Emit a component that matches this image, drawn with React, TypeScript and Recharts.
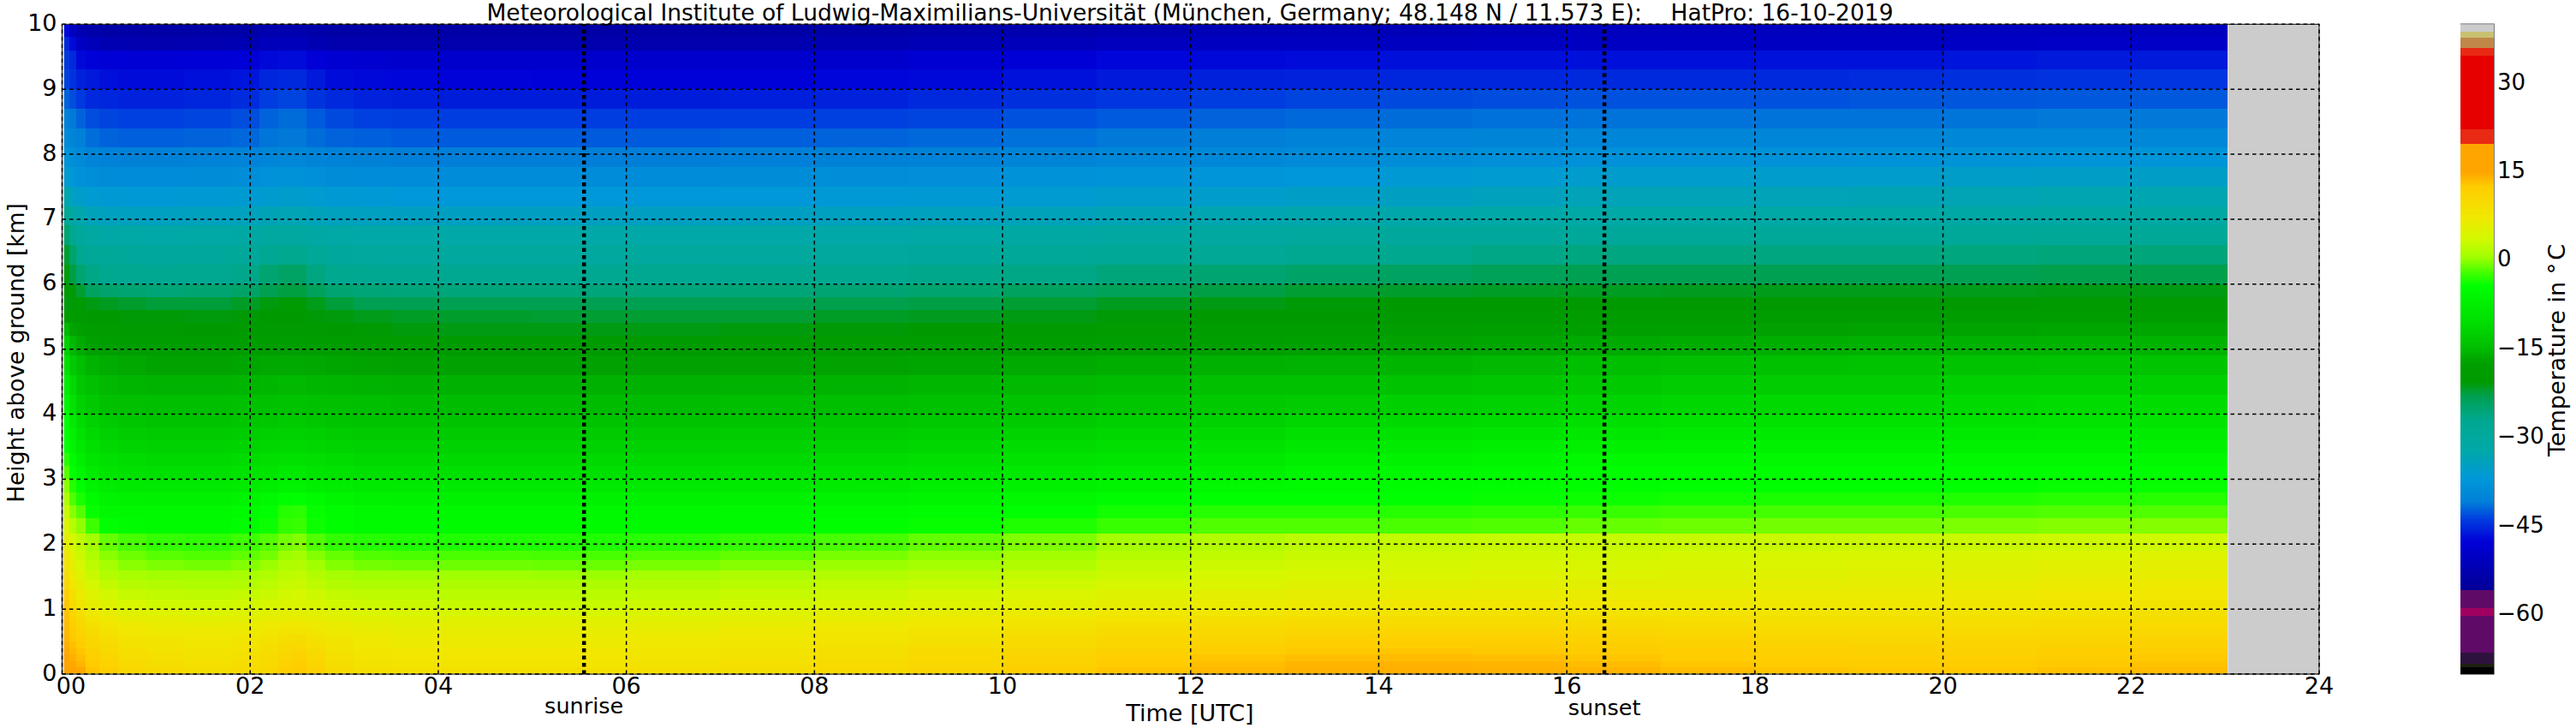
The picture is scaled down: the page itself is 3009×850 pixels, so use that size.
import React from 'react';
import { ScatterChart, Scatter, XAxis, YAxis, ReferenceLine, ReferenceArea } from 'recharts';

const TITLE = 'Meteorological Institute of Ludwig-Maximilians-Universität (München, Germany; 48.148 N / 11.573 E):    HatPro: 16-10-2019';
const xTicks = [0, 2, 4, 6, 8, 10, 12, 14, 16, 18, 20, 22, 24];
const yTicks = [0, 1, 2, 3, 4, 5, 6, 7, 8, 9, 10];
const barTicks = [-60, -45, -30, -15, 0, 15, 30];
const SUNRISE = 5.55;
const SUNSET = 16.4;
const DATA_END = 23.03;

const hourEdges = [0.02, 0.08, 0.15, 0.25, 0.4, 0.6, 0.9, 1.3, 1.8, 2.1, 2.3, 2.45, 2.6, 2.8, 3.1, 3.5, 4, 5, 6, 7, 8, 9, 10, 11, 12, 13, 14, 15, 16, 17, 18, 19, 20, 21, 22, 23.03];
const heightEdges = [0, 0.1, 0.2, 0.3, 0.4, 0.5, 0.6, 0.7, 0.8, 0.9, 1, 1.15, 1.3, 1.45, 1.6, 1.75, 1.9, 2.16, 2.4, 2.6, 2.8, 3, 3.2, 3.4, 3.6, 3.8, 4, 4.3, 4.6, 4.9, 5.2, 5.4, 5.6, 5.8, 6, 6.3, 6.6, 6.9, 7.2, 7.5, 7.8, 8.1, 8.4, 8.7, 9, 9.3, 9.6, 9.8, 10];

// temperature (deg C): one row per height band (bottom to top), one value per time column
const temperatureRows = [
  [16,15,14.8,13,12,10.5,9.8,9.4,9.8,10.6,12,12.6,11.5,9.8,9,8.8,8.8,8.8,9,9.5,10.2,11,12,13,13.8,14.2,14.3,14.2,14,13.6,13,12.8,12.8,13.2,13.6],
  [15.5,14.8,14,12.6,11.4,10,9.4,9,9.4,10.2,11.5,12.2,11,9.4,8.6,8.4,8.4,8.4,8.6,9,9.8,10.6,11.6,12.6,13.4,14,14.2,14,13.6,13,12.6,12.4,12.4,12.8,13.2],
  [15,14.4,13.4,12.2,11,9.6,9,8.6,9,9.8,11,11.8,10.4,9,8.2,8,8,8,8.2,8.6,9.4,10.2,11.2,12.2,13,13.4,13.6,13.4,13,12.6,12.2,12,12,12.4,12.8],
  [14.8,13.8,13,11.6,10.4,9.2,8.6,8.2,8.6,9.4,10.4,11,9.8,8.6,7.8,7.6,7.6,7.6,7.8,8.2,9,9.8,10.8,11.6,12.4,12.8,13,12.8,12.6,12.2,11.8,11.6,11.6,12,12.3],
  [14.4,13.4,12.4,11,9.8,8.6,8.2,7.8,8.2,9,9.8,10.2,9.2,8.2,7.4,7.2,7.2,7.2,7.4,7.8,8.6,9.2,10.2,11,11.8,12.2,12.4,12.4,12,11.8,11.4,11.2,11.2,11.6,11.8],
  [14,12.8,11.8,10.4,9.2,8.2,7.8,7.4,7.8,8.4,9,9.4,8.6,7.8,7,6.8,6.8,6.8,7,7.4,8,8.6,9.6,10.4,11,11.6,11.8,11.8,11.4,11.2,10.8,10.6,10.8,11,11.2],
  [13.8,12.4,11,9.8,8.6,7.6,7.2,7,7.2,7.8,8.2,8.4,7.8,7.2,6.6,6.4,6.4,6.4,6.6,7,7.6,8.2,9,9.8,10.4,10.8,11,11,10.8,10.4,10.2,10,10.2,10.4,10.6],
  [13.6,12,10.4,9,8,7,6.6,6.4,6.6,7.2,7.4,7.6,7.2,6.6,6,5.8,5.8,5.8,6,6.4,7,7.6,8.4,9,9.6,10,10.2,10.2,10,9.8,9.4,9.4,9.6,9.8,10],
  [13.4,11.4,9.6,8.2,7.2,6.2,6,5.6,5.8,6.2,6.4,6.6,6.2,5.8,5.4,5.2,5.2,5.2,5.4,5.8,6.4,7,7.6,8.2,8.8,9.2,9.4,9.4,9.2,9,8.8,8.8,9,9.2,9.4],
  [13.2,10.8,8.8,7.2,6.2,5.4,5,4.8,5,5.4,5.6,5.8,5.4,5,4.6,4.4,4.2,4.2,4.6,5,5.6,6.2,6.8,7.4,7.8,8.2,8.4,8.6,8.4,8.2,8.2,8.2,8.4,8.6,8.8],
  [13,10,8,6.2,5.2,4.2,3.6,3.6,3.8,4.2,4.6,4.8,4.4,3.8,3.4,3.2,3,3,3.4,3.8,4.4,5,5.6,6.2,6.8,7.2,7.4,7.6,7.6,7.4,7.4,7.4,7.8,8,8.2],
  [12,9,6.8,5,3.8,3,2.6,2.5,2.8,3.2,3.8,4,3.4,2.8,2.5,2.4,2.2,2.2,2.6,3,3.4,4,4.6,5.2,5.8,6.2,6.4,6.6,6.6,6.6,6.8,6.8,7.2,7.4,7.6],
  [10.5,8,5.8,4,2.8,2,1.8,1.6,1.8,2.4,3,3.2,2.5,1.8,1.5,1.5,1.4,1.4,1.8,2.2,2.6,3,3.6,4.2,4.8,5.2,5.4,5.6,5.8,5.8,6,6.2,6.4,6.8,7],
  [9.5,7,5,3.2,1.8,1.2,0.8,0.8,1.1,1.6,2.4,2.6,1.8,1,0.6,0.6,0.6,0.5,1,1.4,1.8,2.2,2.8,3.4,4,4.6,4.8,5,5,5.2,5.4,5.6,5.8,6.2,6.4],
  [8.5,6,4,2.4,1,0,-0.4,-0.6,-0.2,0.5,1.6,1.8,0.7,-0.2,-0.6,-0.8,-0.8,-0.9,-0.5,-0.1,0.5,1,1.7,2.8,3.4,3.8,4.2,4.4,4.4,4.6,4.8,5,5.2,5.6,5.8],
  [7.5,5.2,3.4,1.6,0,-0.8,-1.4,-1.6,-1.2,-0.6,0.5,0.9,-0.2,-1,-1.6,-1.8,-1.8,-1.9,-1.5,-1.1,-0.5,0.1,0.8,2,2.6,3.2,3.6,3.8,3.8,4,4.2,4.4,4.6,4.8,5],
  [6,4,2.5,0.8,-1,-1.9,-2.5,-2.7,-2.2,-1.5,-0.6,-0.2,-1.6,-2.6,-3,-3.2,-3.2,-3.2,-2.9,-2.5,-1.9,-1.1,-0.3,1,1.8,2.4,2.8,3,3,3.1,3.2,3.2,3.2,3.4,3.6],
  [4.5,2,0.2,-2.2,-4.2,-4.8,-5,-5,-4.6,-3.8,-2.6,-2.4,-3.8,-4.6,-5,-5.2,-5.2,-5.2,-5,-5,-4.6,-4,-3.2,-2.4,-1.6,-1.6,-1.8,-1.6,-1,-0.8,-0.6,-0.6,-0.4,-0.2,-0.2],
  [3,0,-1.5,-4,-5.4,-5.5,-5.6,-5.6,-5,-4.2,-3,-2.8,-4,-4.8,-5.4,-5.6,-5.6,-5.6,-5.6,-5.4,-5.2,-4.8,-4.2,-3.6,-3,-3,-3,-2.8,-2.4,-2.2,-2,-2,-1.8,-1.6,-1.6],
  [1.5,-1.6,-3.4,-5,-6.4,-6.6,-6.8,-6.8,-6.2,-5.6,-4.4,-4.2,-5.2,-6,-6.6,-6.8,-6.8,-6.8,-6.8,-6.6,-6.4,-6,-5.4,-4.8,-4.2,-4.2,-4.2,-4,-3.8,-3.6,-3.4,-3.4,-3.2,-3,-3],
  [0,-3,-4.6,-6.4,-7.8,-8.2,-8.4,-8.4,-8,-7.4,-6.4,-6.4,-7.2,-7.8,-8.2,-8.4,-8.4,-8.4,-8.4,-8.2,-8,-7.4,-6.8,-6.2,-5.6,-5,-4.8,-4.6,-4.4,-4.2,-4.2,-4.2,-4.2,-4,-4],
  [-1.5,-4.2,-6,-8,-9.2,-9.8,-10,-10,-9.6,-9.2,-8.4,-8.4,-9,-9.6,-10,-10,-10,-10,-10,-9.8,-9.4,-9,-8.4,-7.8,-7,-6,-5.4,-5,-4.6,-4.4,-4.4,-4.4,-4.4,-4.4,-4.4],
  [-3,-5.2,-7.2,-9,-10,-10.6,-11,-11,-10.6,-10.2,-9.8,-9.8,-10.2,-10.6,-11,-11,-11,-11,-11,-10.8,-10.6,-10.2,-9.6,-9,-8.2,-7.2,-6.6,-6,-5.6,-5.4,-5.4,-5.4,-5.4,-5.4,-5.4],
  [-4.2,-6.2,-8.4,-10,-11,-11.6,-12,-12,-11.6,-11.2,-11,-11,-11.2,-11.6,-12,-12,-12,-12,-12,-11.8,-11.6,-11.2,-10.6,-10,-9.4,-8.6,-8,-7.4,-7,-6.8,-6.8,-6.8,-6.8,-6.8,-6.8],
  [-4.2,-7,-9.6,-11,-12,-12.6,-13,-13,-12.6,-12.4,-12,-12,-12.4,-12.8,-13,-13,-13,-13,-13,-12.8,-12.6,-12.2,-11.8,-11.2,-10.8,-10,-9.6,-9,-8.6,-8.2,-8.2,-8.2,-8.2,-8,-8],
  [-4.4,-8,-10.6,-12,-13,-13.6,-14,-14,-13.6,-13.4,-13,-13,-13.4,-13.8,-14,-14,-14,-14,-14,-13.8,-13.6,-13.2,-13,-12.4,-12,-11.4,-11,-10.6,-10,-9.6,-9.6,-9.6,-9.4,-9.2,-9.2],
  [-6,-9.4,-12,-13.2,-14.2,-14.4,-14.6,-14.6,-14.4,-14.2,-14,-14,-14.2,-14.4,-14.6,-14.8,-14.8,-14.8,-14.8,-14.6,-14.6,-14.2,-14,-13.6,-13.2,-12.8,-12.4,-12,-11.6,-11.2,-11,-11,-10.8,-10.6,-10.6],
  [-8,-11,-13.4,-14.4,-15,-15.4,-15.6,-15.6,-15.4,-15.2,-15,-15,-15.2,-15.4,-15.6,-15.8,-15.8,-15.8,-15.8,-15.6,-15.6,-15.2,-15,-14.8,-14.4,-14.2,-14,-13.6,-13.2,-12.8,-12.6,-12.6,-12.4,-12.2,-12.2],
  [-10,-13,-14.6,-15.6,-16.2,-16.6,-17,-17,-16.8,-16.6,-16.4,-16.4,-16.6,-16.8,-17,-17.2,-17.2,-17.2,-17.2,-17,-17,-16.8,-16.4,-16,-15.8,-15.6,-15.4,-15,-14.6,-14.4,-14.2,-14,-14,-13.8,-13.8],
  [-12,-15,-16.4,-17.4,-18,-18.6,-19,-19,-18.8,-18.6,-18.4,-18.4,-18.8,-19,-19.4,-19.6,-19.8,-19.8,-19.8,-19.6,-19.4,-19,-18.6,-18.2,-17.8,-17.4,-17,-16.8,-16.4,-16.2,-16,-15.8,-15.8,-15.6,-15.6],
  [-15,-17,-18,-18.8,-19.4,-19.8,-20,-20.2,-20,-19.8,-19.8,-19.8,-20,-20.2,-20.5,-20.8,-21,-21,-21,-20.8,-20.6,-20.2,-19.8,-19.4,-19,-18.8,-18.4,-18,-17.6,-17.4,-17.2,-17,-17,-16.8,-16.8],
  [-19,-19.6,-20,-20.2,-20.4,-20.6,-20.6,-20.8,-20.6,-20.4,-20.3,-20.3,-20.6,-20.8,-21.2,-21.6,-21.8,-22,-22,-22,-21.6,-21.4,-21,-20.6,-20.4,-20.2,-20,-19.8,-19.4,-19.2,-19,-18.8,-18.8,-18.6,-18.6],
  [-20.8,-20.6,-20.5,-21,-21.4,-21.8,-22.2,-22.2,-21.6,-20.8,-20.5,-20.5,-21.2,-22.2,-23,-23,-23,-23,-23,-23,-22.8,-22.6,-22,-21.4,-21,-20.6,-20.4,-20.4,-20.4,-20.4,-20.2,-20.2,-20.2,-20,-20],
  [-20.5,-20.6,-22,-24,-24.6,-25,-25.4,-25,-24.4,-23,-22.4,-22.4,-23.6,-25,-25.4,-25.6,-25.6,-25.6,-25.6,-25.4,-25.2,-24.8,-24,-23.4,-22.6,-22,-21.8,-21.6,-21.5,-21.4,-21.2,-21.2,-21.2,-21,-21],
  [-20.8,-22.5,-25,-26.4,-27,-27.2,-27.4,-27.2,-26.6,-25,-24.2,-24.2,-26,-27,-27.4,-27.4,-27.4,-27.4,-27.2,-27,-27,-26.6,-26.4,-25.6,-25,-24.4,-24,-23.4,-23,-23,-23,-23,-23,-22.8,-22.8],
  [-22,-24.5,-27,-28.6,-29,-29.4,-29.6,-29.4,-29,-27.6,-27,-27,-28.6,-29.4,-29.8,-30,-30,-30,-30,-30,-29.8,-29.4,-29,-28.4,-28,-27.4,-27,-26.4,-26,-26,-26,-26,-25.8,-25.6,-25.6],
  [-25,-27,-29.5,-30.8,-31.4,-31.6,-31.8,-31.6,-31.2,-30.4,-30.2,-30.2,-31,-31.6,-32,-32,-32,-32,-32,-32,-31.8,-31.6,-31.2,-30.6,-30.4,-30,-29.6,-29.2,-29,-29,-29,-29,-28.8,-28.6,-28.6],
  [-28,-31,-32.5,-33.8,-34.2,-34.4,-34.4,-34.2,-34,-33.4,-33.2,-33.2,-33.8,-34.2,-34.4,-34.6,-34.6,-34.6,-34.6,-34.6,-34.4,-34.2,-33.8,-33.4,-33,-32.6,-32.2,-31.8,-31.5,-31.5,-31.5,-31.5,-31.4,-31.2,-31.2],
  [-32.5,-34.5,-35.4,-36,-36.4,-36.6,-36.6,-36.4,-36.2,-35.8,-35.6,-35.6,-36,-36.4,-36.6,-36.8,-36.8,-36.8,-36.8,-36.8,-36.6,-36.4,-36,-35.6,-35.4,-35,-34.6,-34,-33.5,-33.5,-33.5,-33.4,-33.2,-33,-33],
  [-36,-37,-38,-38.4,-38.6,-38.8,-38.8,-38.6,-38.4,-38,-37.8,-37.8,-38.2,-38.6,-38.8,-38.8,-38.8,-38.8,-38.8,-38.6,-38.4,-38.2,-37.8,-37.6,-37.4,-37,-36.4,-36,-35.5,-35.5,-35.5,-35.4,-35.2,-35,-35],
  [-37.5,-38.5,-39,-40,-40.4,-40.6,-40.6,-40.4,-40.2,-39.8,-39.6,-39.6,-40,-40.4,-40.6,-40.8,-40.8,-40.8,-40.8,-40.7,-40.6,-40.4,-40,-39.6,-39.4,-39,-38.6,-38.2,-38,-38,-38,-37.8,-37.6,-37.5,-37.5],
  [-39,-40,-40.7,-41.5,-42,-42.2,-42.2,-42,-41.8,-41.2,-41,-41,-41.6,-42,-42.2,-42.4,-42.4,-42.4,-42.4,-42.2,-42,-41.8,-41.4,-41,-40.8,-40.4,-40.2,-40,-39.8,-39.8,-39.8,-39.8,-39.6,-39.5,-39.5],
  [-40.5,-41,-42,-43,-43.4,-43.6,-43.6,-43.4,-43,-42,-41.6,-41.6,-42.4,-43.2,-43.6,-43.8,-43.8,-43.8,-43.8,-43.8,-43.6,-43.4,-42.8,-42.4,-42,-41.8,-41.6,-41.4,-41.3,-41.3,-41.3,-41.3,-41.2,-41,-41],
  [-42,-43,-44,-45,-45.2,-45.4,-45.4,-45.2,-44.8,-43.8,-43.4,-43.4,-44.4,-45,-45.4,-45.6,-45.8,-45.8,-45.8,-45.6,-45.4,-45,-44.6,-44.2,-43.8,-43.4,-43.2,-43,-42.8,-42.8,-42.8,-42.6,-42.6,-42.5,-42.5],
  [-43.5,-44.5,-45.5,-46,-46.5,-46.8,-46.8,-46.6,-46.2,-45.2,-45,-45,-46,-46.8,-47,-47.2,-47.4,-47.5,-47.5,-47.5,-47.2,-47,-46.4,-46,-45.5,-45.4,-45.2,-45.2,-45,-45,-45,-44.8,-44.6,-44.4,-44.3],
  [-44,-45,-47,-47.5,-47.8,-48,-48,-47.8,-47.6,-47,-46.8,-46.8,-47.6,-48.2,-48.6,-48.8,-49,-49,-49,-49,-48.8,-48.2,-47.8,-47.2,-47,-46.8,-46.6,-46.6,-46.5,-46.5,-46.4,-46.4,-46.2,-46,-46],
  [-45,-47,-50,-51,-52,-52.2,-52.4,-52.2,-52,-51,-51,-51,-52,-52.4,-52.6,-52.6,-52.6,-52.6,-52.6,-52.4,-52,-51.6,-51,-50.6,-50.4,-50.4,-50.4,-50.2,-50.2,-50,-50,-50,-49.8,-49.6,-49.6],
  [-47,-50,-52,-53,-53.5,-53.6,-53.6,-53.4,-53.2,-52.6,-52.4,-52.4,-53,-53.4,-53.6,-53.6,-53.6,-53.6,-53.6,-53.4,-53.2,-52.8,-52.4,-52,-51.6,-51.4,-51.2,-51,-50.7,-50.6,-50.6,-50.6,-50.5,-50.5,-50.5],
];

// colour scale
const smoothTemps = [-55.7, -53.3, -47.5, -43.6, -40.7, -36.8, -32, -27, -22.9, -20.4, -17.3, -14.4, -10, -4.2, -1.6, 0.6, 3.9, 7.4, 12.6, 15, 19.8];
const smoothColors = ['#000098', '#0000a8', '#0000d8', '#0040e0', '#0080d8', '#0098d8', '#00a8a8', '#00a890', '#00a050', '#009a00', '#00a000', '#00c000', '#00e000', '#00ff00', '#50ff00', '#a0ff00', '#d4f800', '#f0e800', '#ffcc00', '#ffa500', '#ffa500'];
const bandTops = [-68.7, -68.3, -66.2, -60.1, -58.8, -55.7];
const bandColors = ['#000000', '#1c2010', '#2e123e', '#600a68', '#a00060', '#600a68'];
const hotTops = [22.3, 34.8, 36.1, 37.8, 38.7, 40.1];
const hotColors = ['#e82a14', '#e60000', '#e82a14', '#c08848', '#c8c070', '#cccccc'];

const hexToRgb = (h: string) => [1, 3, 5].map((i) => parseInt(h.slice(i, i + 2), 16));
function colorOf(t: number): string {
  if (t < -55.7) {
    const i = bandTops.findIndex((v) => t < v);
    return bandColors[i < 0 ? 0 : i];
  }
  if (t >= 19.8) {
    const i = hotTops.findIndex((v) => t < v);
    return hotColors[i < 0 ? hotColors.length - 1 : i];
  }
  let i = 0;
  while (i < smoothTemps.length - 2 && t > smoothTemps[i + 1]) i++;
  const f = (t - smoothTemps[i]) / (smoothTemps[i + 1] - smoothTemps[i]);
  const a = hexToRgb(smoothColors[i]);
  const b = hexToRgb(smoothColors[i + 1]);
  return `rgb(${a.map((v, k) => Math.round(v + (b[k] - v) * f)).join(',')})`;
}

// layout
const PLOT_LEFT = 72.5;
const PLOT_TOP = 28.3;
const PLOT_W = 2636.5;
const PLOT_H = 758.7;
const PLOT_BOTTOM_GAP = 850 - PLOT_TOP - PLOT_H;
const BAR_LEFT = 2874;
const BAR_W = 39;
const PX_PER_HOUR = PLOT_W / 24;
const PX_PER_KM = PLOT_H / 10;
const PX_PER_DEG = PLOT_H / 110;

const cells = temperatureRows.flatMap((row, r) =>
  row.map((temp, c) => ({
    t: (hourEdges[c] + hourEdges[c + 1]) / 2,
    h: (heightEdges[r] + heightEdges[r + 1]) / 2,
    dt: hourEdges[c + 1] - hourEdges[c],
    dh: heightEdges[r + 1] - heightEdges[r],
    temp,
  })),
);
const frameCorners = [{ t: 0, h: 0 }, { t: 24, h: 10 }];

const barStep = 0.25;
const barCells = Array.from({ length: 440 }, (_, i) => ({ x: 0.5, v: -70 + (i + 0.5) * barStep }));

const CellShape = (p: any) => {
  const w = p.payload.dt * PX_PER_HOUR;
  const h = p.payload.dh * PX_PER_KM;
  return <rect x={p.cx - w / 2} y={p.cy - h / 2} width={w} height={h} fill={colorOf(p.payload.temp)} shapeRendering="crispEdges" />;
};
const BarShape = (p: any) => {
  const h = barStep * PX_PER_DEG;
  return <rect x={p.cx - BAR_W / 2} y={p.cy - h / 2} width={BAR_W} height={h + 0.5} fill={colorOf(p.payload.v)} shapeRendering="crispEdges" />;
};
const NoShape = () => <g />;
const XTick = (p: any) => (
  <text x={p.x + (p.payload.value === 0 ? 10.5 : 0)} y={p.y + 21} textAnchor="middle" fontSize={27} fill="#000" fontFamily="DejaVu Sans">
    {String(p.payload.value).padStart(2, '0')}
  </text>
);

const FONT = '"DejaVu Sans"';
const gridProps = { stroke: '#000', strokeWidth: 1.5, strokeDasharray: '4.5 4', ifOverflow: 'visible' as const };
const sunProps = { stroke: '#000', strokeWidth: 4.5, strokeDasharray: '4.5 4', ifOverflow: 'visible' as const };
const hourToPx = (h: number) => PLOT_LEFT + h * PX_PER_HOUR;

export default function App() {
  return (
    <div style={{ position: 'absolute', left: 0, top: 0, width: 3009, height: 850, background: '#fff', fontFamily: FONT }}>
      <div style={{ position: 'absolute', left: 0, top: 0 }}>
        <ScatterChart width={3009} height={850} margin={{ top: PLOT_TOP, left: 0, right: 3009 - PLOT_LEFT - PLOT_W, bottom: 0 }}>
          <XAxis type="number" dataKey="t" domain={[0, 24]} ticks={xTicks} interval={0} height={PLOT_BOTTOM_GAP} tickLine={false} tickSize={0} tick={XTick} stroke="#444" allowDataOverflow />
          <YAxis type="number" dataKey="h" domain={[0, 10]} ticks={yTicks} interval={0} width={PLOT_LEFT} tickLine={false} tickSize={0} tickMargin={6} tick={{ fontSize: 27, fill: '#000', fontFamily: FONT, dy: -2 }} stroke="#444" allowDataOverflow />
          <ReferenceArea x1={0} x2={0.02} y1={0} y2={10} fill="#cccccc" fillOpacity={1} stroke="none" />
          <ReferenceArea x1={DATA_END} x2={24} y1={0} y2={10} fill="#cccccc" fillOpacity={1} stroke="none" />
          <Scatter data={cells} shape={CellShape} isAnimationActive={false} />
        </ScatterChart>
      </div>
      <div style={{ position: 'absolute', left: 0, top: 0, pointerEvents: 'none' }}>
        <ScatterChart width={3009} height={850} margin={{ top: PLOT_TOP, left: 0, right: 3009 - PLOT_LEFT - PLOT_W, bottom: 0 }}>
          <XAxis type="number" dataKey="t" domain={[0, 24]} ticks={xTicks} height={PLOT_BOTTOM_GAP} tick={false} tickLine={false} axisLine={false} allowDataOverflow />
          <YAxis type="number" dataKey="h" domain={[0, 10]} ticks={yTicks} width={PLOT_LEFT} tick={false} tickLine={false} axisLine={false} allowDataOverflow />
          <Scatter data={frameCorners} shape={NoShape} isAnimationActive={false} />
          {yTicks.map((v) => (
            <ReferenceLine key={`h${v}`} y={v} {...gridProps} />
          ))}
          {xTicks.map((v) => (
            <ReferenceLine key={`v${v}`} x={v} {...gridProps} />
          ))}
          <ReferenceLine x={SUNRISE} {...sunProps} />
          <ReferenceLine x={SUNSET} {...sunProps} />
          <ReferenceArea x1={0} x2={24} y1={0} y2={10} fill="none" stroke="#333" strokeWidth={1.2} />
        </ScatterChart>
      </div>
      <div style={{ position: 'absolute', left: BAR_LEFT, top: 0 }}>
        <ScatterChart width={135} height={850} margin={{ top: PLOT_TOP, left: 0, right: 0, bottom: PLOT_BOTTOM_GAP }}>
          <XAxis type="number" dataKey="x" domain={[0, 1]} hide />
          <YAxis type="number" dataKey="v" orientation="right" domain={[-70, 40]} ticks={barTicks} interval={0} width={135 - BAR_W} tickLine={false} tickSize={0} tickMargin={4} axisLine={false} tickFormatter={(v: number) => String(v).replace('-', '\u2212')} tick={{ fontSize: 26, fill: '#000', fontFamily: FONT, dy: -2 }} allowDataOverflow />
          <Scatter data={barCells} shape={BarShape} isAnimationActive={false} />
          <ReferenceArea x1={0} x2={1} y1={-70} y2={40} fill="none" stroke="#555" strokeWidth={1.5} />
        </ScatterChart>
      </div>
      <svg width={3009} height={850} style={{ position: 'absolute', left: 0, top: 0, pointerEvents: 'none' }} fontFamily={FONT} fill="#000">
        <text x={1390} y={24} textAnchor="middle" fontSize={26.5} xmlSpace="preserve" style={{ whiteSpace: 'pre' }}>{TITLE}</text>
        <text x={1390} y={842} textAnchor="middle" fontSize={27}>Time [UTC]</text>
        <text x={hourToPx(SUNRISE)} y={833} textAnchor="middle" fontSize={25.5}>sunrise</text>
        <text x={hourToPx(SUNSET)} y={835} textAnchor="middle" fontSize={25.5}>sunset</text>
        <text transform="translate(28 412) rotate(-90)" textAnchor="middle" fontSize={26.5}>Height above ground [km]</text>
        <text transform="translate(2996 409) rotate(-90)" textAnchor="middle" fontSize={27}>Temperature in °<tspan dx={3}>C</tspan></text>
      </svg>
    </div>
  );
}
